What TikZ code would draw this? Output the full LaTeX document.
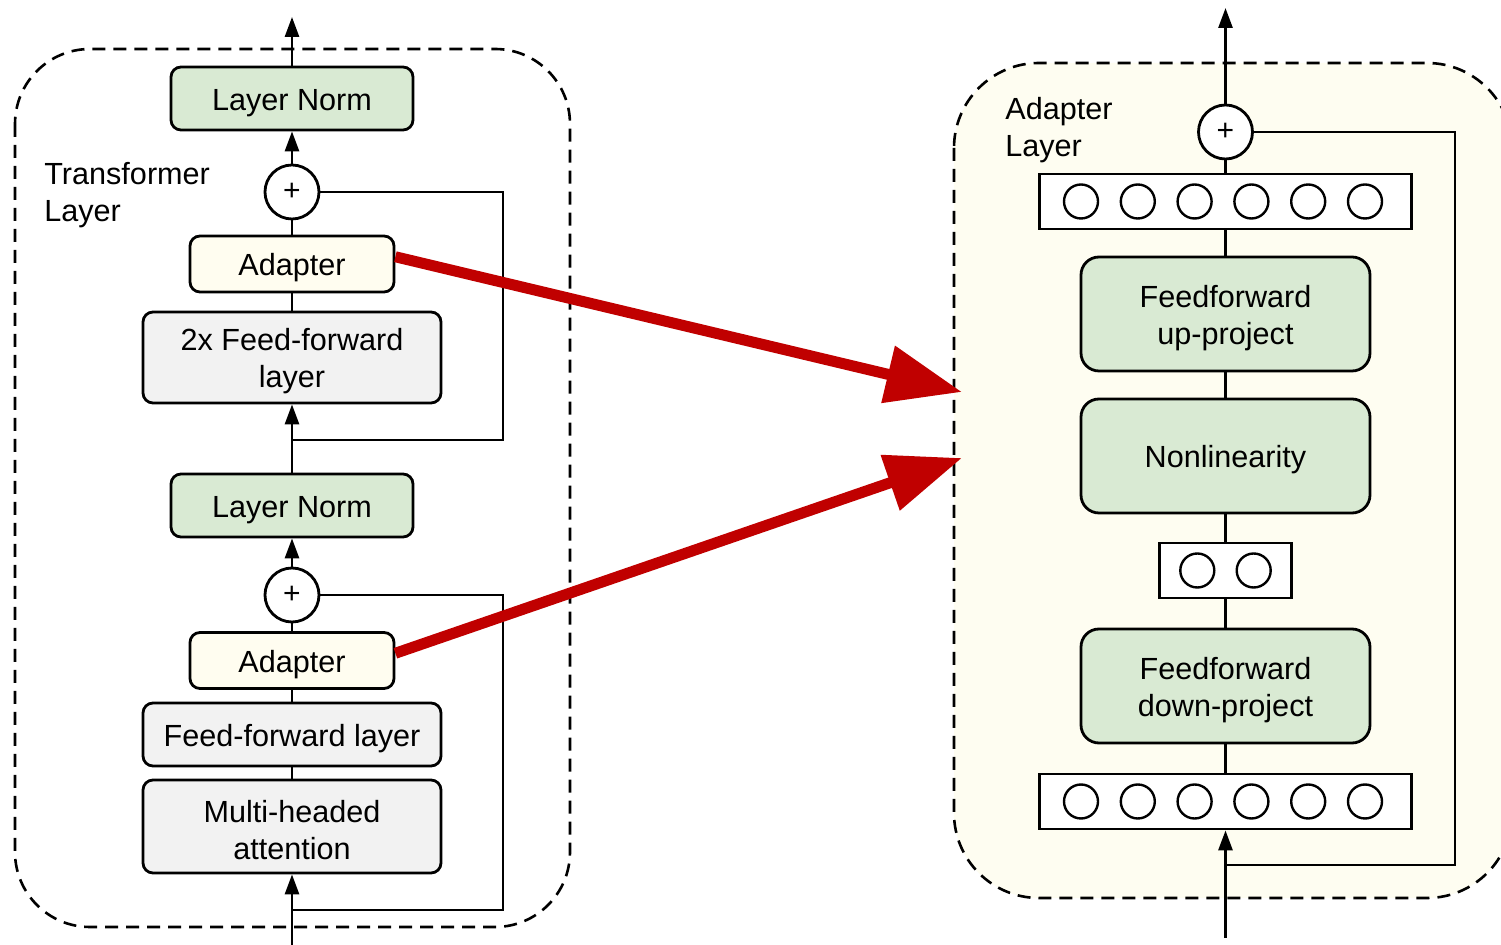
\documentclass[tikz,border=0pt]{standalone}
\usepackage{fontspec}
\setmainfont{Liberation Sans}
\usetikzlibrary{arrows.meta}

\definecolor{normgreen}{HTML}{D9EAD3}
\definecolor{adaptcream}{HTML}{FFFDF0}
\definecolor{framecream}{HTML}{FEFDF1}
\definecolor{boxgray}{HTML}{F2F2F2}
\definecolor{arrowred}{HTML}{C00000}

\newcommand{\labelfs}{\fontsize{15.3}{18.5}\selectfont}
\newcommand{\plusfs}{\fontsize{15}{15}\selectfont}
% taller first line, so that the text sits a little lower in its box
\newcommand{\topstrut}{\rule{0pt}{15pt}}

\tikzset{
  base/.style={draw, line width=1.4pt, rounded corners=5pt, inner sep=0pt,
    align=center, font=\labelfs},
  normbox/.style={base, fill=normgreen, minimum width=121pt, minimum height=31.5pt},
  adaptbox/.style={base, fill=adaptcream, minimum width=102pt, minimum height=28pt},
  graybox/.style={base, fill=boxgray, minimum width=149pt},
  projbox/.style={base, fill=normgreen, rounded corners=9pt,
    minimum width=144.5pt, minimum height=57pt},
  sumnode/.style={circle, draw, line width=1.4pt, fill=white, minimum size=27pt,
    inner sep=0pt, font=\plusfs},
  neuron/.style={circle, draw, line width=1.2pt, fill=white, minimum size=17pt,
    inner sep=0pt},
  vecbox/.style={draw, line width=1.4pt, fill=white, minimum height=27.5pt,
    inner sep=0pt},
  conn/.style={line width=1.4pt},
  flow/.style={conn, -{Triangle[length=10pt,width=7pt]}},
  bigarrow/.style={line width=5.5pt, draw=arrowred,
    -{Triangle[length=38pt,width=28pt]}},
  frame/.style={line width=1.3pt, dash pattern=on 6.5pt off 4pt},
  caption/.style={anchor=west, align=left, inner sep=0pt, font=\labelfs}
}

\begin{document}
\begin{tikzpicture}[x=0.5pt,y=-0.5pt]
\fill[white] (0,0) rectangle (1501,945);
\clip (0,0) rectangle (1501,945);

% dashed frames
\draw[frame, rounded corners=37.5pt] (15,49) rectangle (570,927);
\draw[frame, rounded corners=42.5pt, fill=framecream] (954,63) rectangle (1512,898);

% ---------------- transformer layer ----------------
\node[caption] (tlabel) at (44,191.5) {\topstrut Transformer\\Layer};

\node[normbox]  (ln1)  at (292,98.5)  {\topstrut Layer Norm};
\node[sumnode]  (sum1) at (292,192)   {+};
\node[adaptbox] (ad1)  at (292,264)   {\topstrut Adapter};
\node[graybox, minimum height=45.5pt] (ff2) at (292,357.5) {\topstrut 2x Feed-forward\\layer};
\node[normbox]  (ln2)  at (292,505.5) {\topstrut Layer Norm};
\node[sumnode]  (sum2) at (292,595)   {+};
\node[adaptbox] (ad2)  at (292,660.5) {\topstrut Adapter};
\node[graybox, minimum height=31.5pt] (ff1) at (292,734.5) {\topstrut Feed-forward layer};
\node[graybox, minimum height=46.5pt] (mha) at (292,826.5) {\topstrut Multi-headed\\attention};

\coordinate (out1) at (292,17);
\coordinate (in1)  at (292,946);
\coordinate (j1)   at (292,910);
\coordinate (k1)   at (503,910);
\coordinate (j2)   at (292,440);
\coordinate (k2)   at (503,440);

\draw[flow] (in1) -- (mha.south);
\draw[conn] (mha.north) -- (ff1.south);
\draw[conn] (ff1.north) -- (ad2.south);
\draw[conn] (ad2.north) -- (sum2.south);
\draw[flow] (sum2.north) -- (ln2.south);
\draw[flow] (ln2.north) -- (ff2.south);
\draw[conn] (ff2.north) -- (ad1.south);
\draw[conn] (ad1.north) -- (sum1.south);
\draw[flow] (sum1.north) -- (ln1.south);
\draw[flow] (ln1.north) -- (out1);

\draw[conn] (j1) -- (k1) |- (sum2.east);
\draw[conn] (j2) -- (k2) |- (sum1.east);

% ---------------- adapter layer ----------------
\node[caption] (alabel) at (1005,126.5) {\topstrut Adapter\\Layer};

\node[sumnode] (sum3) at (1225.5,132) {+};
\node[vecbox, minimum width=185.75pt] (vtop) at (1225.5,201.5) {};
\node[projbox] (up)  at (1225.5,314) {\topstrut Feedforward\\up-project};
\node[projbox] (act) at (1225.5,456) {\topstrut Nonlinearity};
\node[vecbox, minimum width=66pt] (vmid) at (1225.5,570.5) {};
\node[projbox] (down) at (1225.5,686) {\topstrut Feedforward\\down-project};
\node[vecbox, minimum width=185.75pt] (vbot) at (1225.5,801.5) {};

\foreach \i in {0,...,5} {
  \node[neuron] (nt\i) at (1081+56.8*\i,201.5) {};
  \node[neuron] (nb\i) at (1081+56.8*\i,801.5) {};
}
\node[neuron] (nm0) at (1197.3,570.5) {};
\node[neuron] (nm1) at (1253.7,570.5) {};

\coordinate (out2) at (1225.5,8);
\coordinate (in2)  at (1225.5,938);
\coordinate (j3)   at (1225.5,865);
\coordinate (k3)   at (1455,865);

\draw[flow] (in2) -- (vbot.south);
\draw[conn] (vbot.north) -- (down.south);
\draw[conn] (down.north) -- (vmid.south);
\draw[conn] (vmid.north) -- (act.south);
\draw[conn] (act.north) -- (up.south);
\draw[conn] (up.north) -- (vtop.south);
\draw[conn] (vtop.north) -- (sum3.south);
\draw[flow] (sum3.north) -- (out2);
\draw[conn] (j3) -- (k3) |- (sum3.east);

% ---------------- links from the adapters ----------------
\coordinate (tipA) at (962,392);
\coordinate (tipB) at (962,458);
\draw[bigarrow] (ad1.4) -- (tipA);
\draw[bigarrow] (ad2.4) -- (tipB);
\end{tikzpicture}
\end{document}
